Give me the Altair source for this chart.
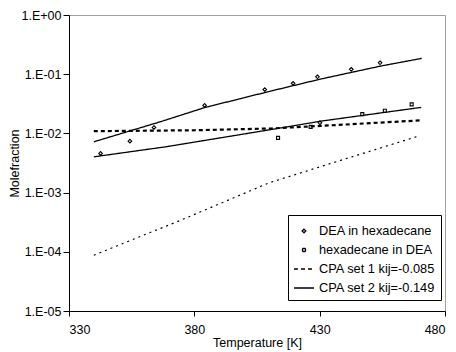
import altair as alt
import pandas as pd

LABELS = ["DEA in hexadecane", "hexadecane in DEA",
          "CPA set 1 kij=-0.085", "CPA set 2 kij=-0.149"]

# experimental points
dea_T = [342.6, 354.3, 363.9, 384.1, 408.1, 419.4, 429.1, 430.1, 442.6, 454.1]
dea_x = [0.00459, 0.0074, 0.0126, 0.0297, 0.055, 0.070, 0.0905, 0.0151, 0.121, 0.156]
hex_T = [413.4, 426.4, 447.0, 456.0, 466.7]
hex_x = [0.0084, 0.0129, 0.0212, 0.0241, 0.0309]

# CPA set 2 (solid)
s2a_T = [339.9, 366.6, 384.1, 410.5, 430.4, 454.4, 470.7]
s2a_x = [0.00721, 0.0158, 0.0273, 0.0519, 0.0828, 0.1374, 0.185]
s2b_T = [339.9, 368.5, 410.5, 430.4, 470.5]
s2b_x = [0.00402, 0.00593, 0.01159, 0.0161, 0.0275]

# CPA set 1 (dashed)
s1a_T = [339.9, 380.0, 410.5, 430.4, 470.3]
s1a_x = [0.0109, 0.0113, 0.0121, 0.0134, 0.0166]
s1b_T = [339.9, 374.6, 409.8, 438.4, 468.7]
s1b_x = [8.75e-5, 3.42e-4, 1.46e-3, 3.51e-3, 8.8e-3]

Y_TICKS = [1e-5, 1e-4, 1e-3, 1e-2, 1e-1, 1.0]
X_TICKS = [330, 380, 430, 480]

pts = pd.DataFrame({
    "T": dea_T + hex_T,
    "x": dea_x + hex_x,
    "series": [LABELS[0]] * len(dea_T) + [LABELS[1]] * len(hex_T),
})

def curve(T, X, label, cid):
    return pd.DataFrame({"T": T, "x": X, "series": label, "curve": cid})

set2 = pd.concat([curve(s2a_T, s2a_x, LABELS[3], "a"),
                  curve(s2b_T, s2b_x, LABELS[3], "b")])
set1a = curve(s1a_T, s1a_x, LABELS[2], "c")
set1b = curve(s1b_T, s1b_x, LABELS[2], "d")

FONT = "Liberation Sans"
diamond = "M0,-0.18L0.18,0L0,0.18L-0.18,0Z"
square = "M-0.15,-0.15H0.15V0.15H-0.15Z"
stroke = "M-1,0H1"

shape_scale = alt.Scale(domain=LABELS, range=[diamond, square, stroke, stroke])
dash_scale = alt.Scale(domain=LABELS, range=[[1, 0], [1, 0], [4, 3], [1, 0]])

def mk_legend():
    return alt.Legend(
        title=None, orient="none", legendX=219, legendY=200,
        strokeColor="black", fillColor="white", padding=5,
        symbolSize=400, symbolStrokeWidth=1.3, symbolStrokeColor="black",
        symbolFillColor="transparent", symbolOpacity=1,
        labelFont=FONT, labelFontSize=12.8,
        labelColor="black", rowPadding=1, labelOffset=4, cornerRadius=0,
    )

x_enc = alt.X("T:Q", scale=alt.Scale(domain=[330, 480], nice=False, zero=False),
              axis=alt.Axis(values=X_TICKS, title="Temperature [K]", format="d"))
y_enc = alt.Y("x:Q", scale=alt.Scale(type="log", domain=[1e-5, 1], nice=False),
              axis=alt.Axis(values=Y_TICKS, title="Molefraction",
                            labelExpr="'1.E' + (datum.value >= 1 ? '+' : '-') + '0' + abs(round(log(datum.value)/LN10))"))

points = alt.Chart(pts).mark_point(filled=False, size=400, color="black", strokeWidth=1.1, opacity=1).encode(
    x=x_enc, y=y_enc,
    shape=alt.Shape("series:N", scale=shape_scale, legend=mk_legend()),
)

line2 = alt.Chart(set2).mark_line(color="black", strokeWidth=1.3).encode(
    x=x_enc, y=y_enc, detail="curve:N",
    strokeDash=alt.StrokeDash("series:N", scale=dash_scale, legend=mk_legend()),
)
line1a = alt.Chart(set1a).mark_line(color="black", strokeWidth=2.2).encode(
    x=x_enc, y=y_enc, detail="curve:N",
    strokeDash=alt.StrokeDash("series:N", scale=dash_scale, legend=mk_legend()),
)
line1b = alt.Chart(set1b).mark_line(color="black", strokeWidth=1.2, strokeDash=[2, 4]).encode(
    x=x_enc, y=y_enc, detail="curve:N",
)

chart = alt.layer(line1b, line1a, line2, points).properties(
    width=376, height=296,
    autosize=alt.AutoSizeParams(type="none"),
    padding={"left": 69, "top": 15, "right": 11, "bottom": 41},
).configure_view(
    stroke="#a0a0a0", strokeWidth=1
).configure_axis(
    grid=False, domainColor="black", tickColor="black", labelColor="black",
    titleColor="black", labelFont=FONT, titleFont=FONT, labelFontSize=12.5,
    titleFontSize=12.5, titleFontWeight="normal", tickSize=5, domainWidth=1,
).configure_axisX(
    labelPadding=7, titlePadding=1,
).configure_axisY(
    labelPadding=2, tickSize=6, titlePadding=0,
)

chart.save("out.html", embed_options={"renderer": "svg", "actions": False})
